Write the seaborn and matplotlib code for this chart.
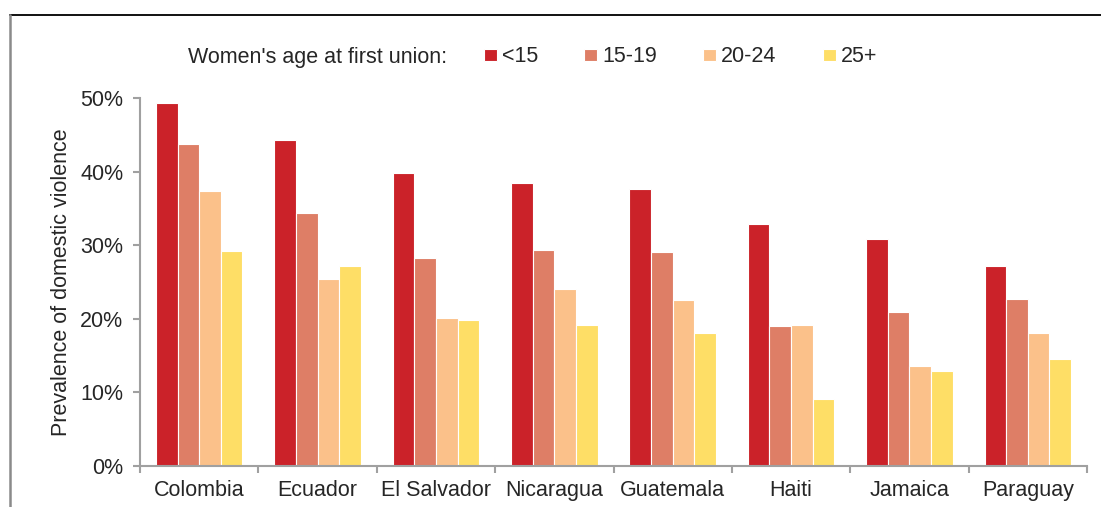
import pandas as pd
import numpy as np
import matplotlib.pyplot as plt
import seaborn as sns
from matplotlib.lines import Line2D
from matplotlib.ticker import PercentFormatter

# Data
countries = ['Colombia', 'Ecuador', 'El Salvador', 'Nicaragua',
             'Guatemala', 'Haiti', 'Jamaica', 'Paraguay']
age_groups = ['<15', '15-19', '20-24', '25+']
under15 = [49.3, 44.3, 39.8, 38.5, 37.7, 32.9, 30.9, 27.2]
age15_19 = [43.8, 34.4, 28.3, 29.4, 29.1, 19.1, 20.9, 22.7]
age20_24 = [37.4, 25.4, 20.1, 24.1, 22.6, 19.2, 13.6, 18.1]
age25_plus = [29.2, 27.2, 19.9, 19.2, 18.1, 9.1, 12.9, 14.5]
colors = ['#CB2229', '#DE7E66', '#FBC18A', '#FEDE66']

values = [under15, age15_19, age20_24, age25_plus]
data = pd.DataFrame({
    'Country': countries * len(age_groups),
    'Age': np.repeat(age_groups, len(countries)),
    'Prevalence': np.concatenate(values) / 100,
})

sns.set_style('white')
plt.rcParams['font.family'] = ['Liberation Sans', 'DejaVu Sans']
FS = 15.5
axis_grey = '#a0a0a0'

fig = plt.figure(figsize=(11.01, 5.07), dpi=100)
ax = fig.add_axes([140 / 1101, 41 / 507, 947 / 1101, 367.7 / 507])

sns.barplot(data=data, x='Country', y='Prevalence', hue='Age',
            hue_order=age_groups, palette=dict(zip(age_groups, colors)),
            width=0.73, gap=0, edgecolor='white', linewidth=0.8,
            saturation=1, ax=ax)

ax.set_ylim(0, 0.5)
ax.set_xlim(-0.5, len(countries) - 0.5)
ax.yaxis.set_major_formatter(PercentFormatter(1.0, decimals=0))
ax.set_yticks(np.arange(0, 0.51, 0.1))
ax.set_xticks(np.arange(-0.5, len(countries), 1.0), minor=True)
ax.tick_params(axis='x', which='major', bottom=False, length=0, pad=10,
               labelsize=FS)
ax.tick_params(axis='x', which='minor', bottom=True, length=5, width=1.5,
               color=axis_grey, direction='out')
ax.tick_params(axis='y', left=True, length=5, width=1.5, color=axis_grey,
               direction='out', pad=7, labelsize=FS)
ax.set_xlabel('')
ax.set_ylabel('Prevalence of domestic violence', fontsize=FS)
ax.yaxis.set_label_coords(-0.072, 0.5)

for side in ['top', 'right']:
    ax.spines[side].set_visible(False)
for side in ['left', 'bottom']:
    ax.spines[side].set_color(axis_grey)
    ax.spines[side].set_linewidth(1.5)

# Legend placed in a single row with a title on its left
handles, labels = ax.get_legend_handles_labels()
ax.legend_.remove()
fig.legend(handles, labels, ncol=4, loc='center left',
           bbox_to_anchor=(484 / 1101, 1 - 57 / 507), frameon=False,
           fontsize=FS, borderpad=0, borderaxespad=0, handlelength=0.6,
           handleheight=0.47, handletextpad=0.23, columnspacing=2.15)
fig.text(188 / 1101, 1 - 57 / 507, "Women's age at first union:",
         fontsize=FS, ha='left', va='center')

# Outer frame (partially cropped in the reference)
fig.add_artist(Line2D([10 / 1101, 1], [1 - 15 / 507, 1 - 15 / 507],
                      color='#111111', linewidth=1.4))
fig.add_artist(Line2D([10 / 1101, 10 / 1101], [0, 1 - 15 / 507],
                      color='#8a8a8a', linewidth=1.8))

fig.savefig('out.png', dpi=100)
